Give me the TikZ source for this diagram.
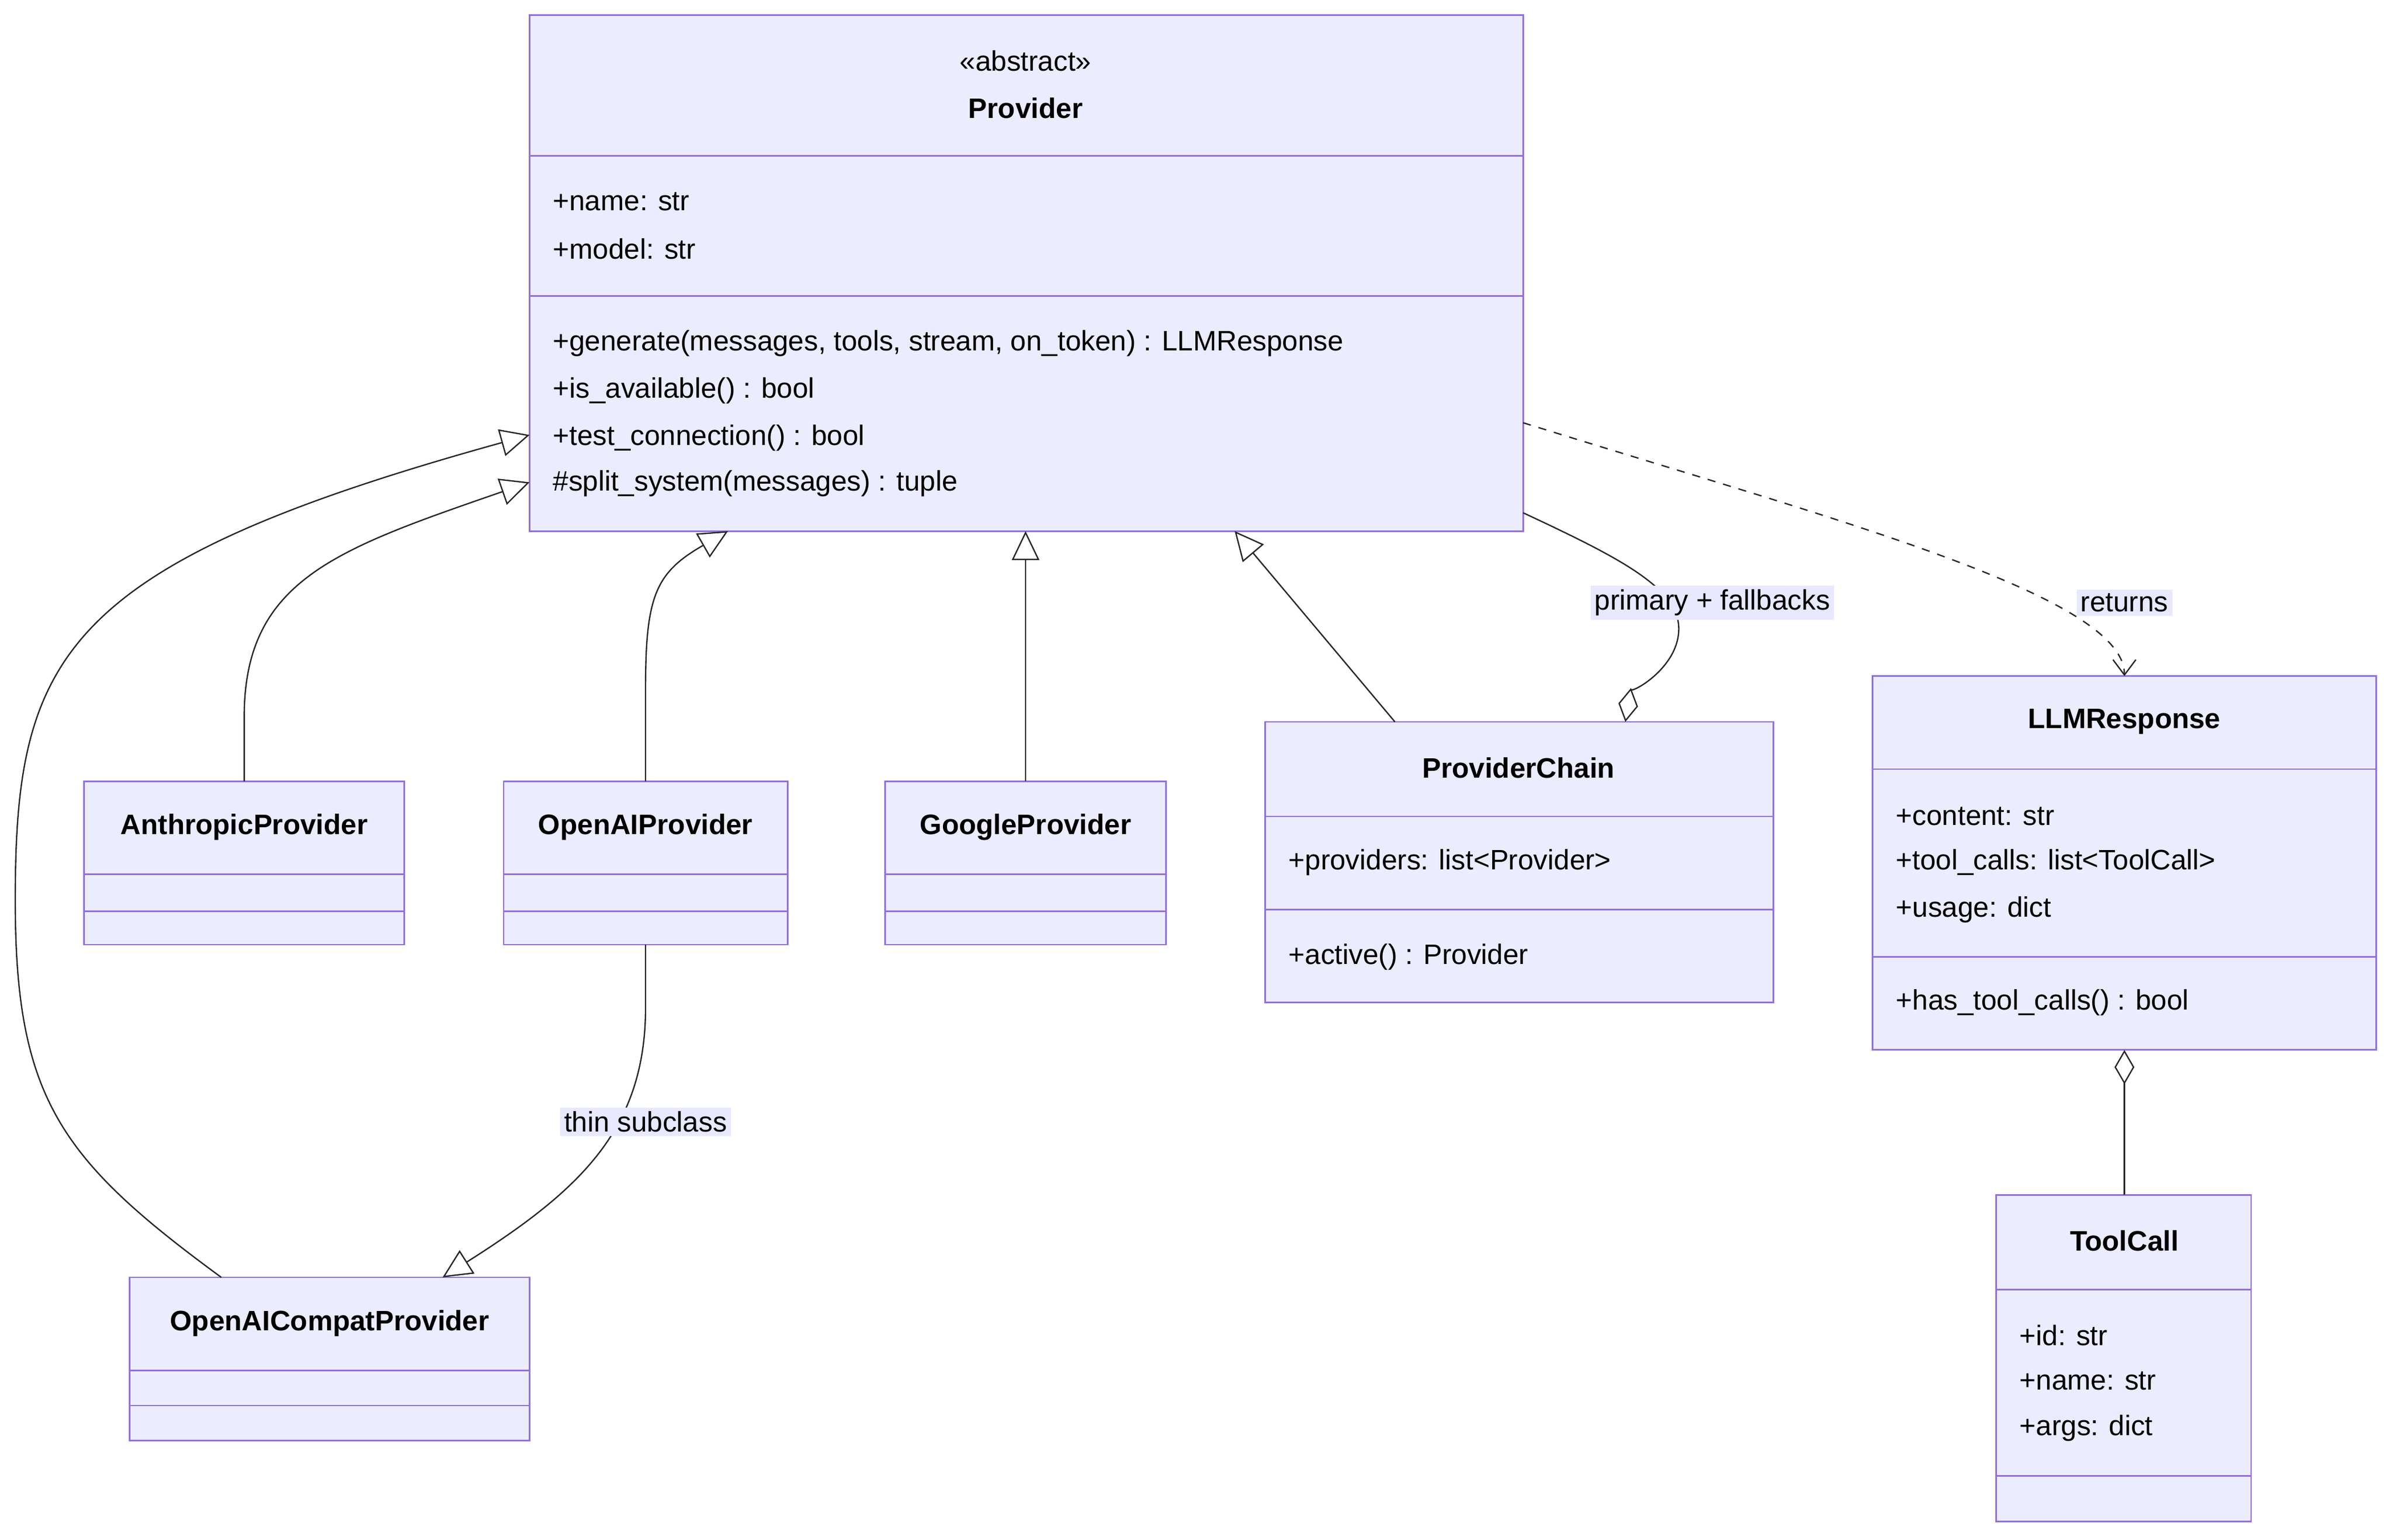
\documentclass[tikz,border=0pt]{standalone}
\usepackage{fontspec}
\setmainfont{Liberation Sans}
\usetikzlibrary{arrows.meta,calc}

\definecolor{boxfill}{HTML}{ECECFF}
\definecolor{boxline}{HTML}{9370DB}
\definecolor{lblfill}{HTML}{E8E8FF}

\tikzset{
  box/.style={draw=boxline, fill=boxfill, line width=0.6pt},
  divider/.style={draw=boxline, line width=0.6pt},
  title/.style={font=\fontsize{10.5}{12}\selectfont\bfseries, inner sep=0pt},
  member/.style={font=\fontsize{10.5}{12}\selectfont, anchor=west, inner sep=0pt},
  edge/.style={draw=black!85, line width=0.5pt},
  inherit/.style={edge, -{Triangle[open, length=0.38cm, width=0.36cm]}},
  aggr/.style={edge, -{Diamond[open, length=0.45cm, width=0.26cm]}},
  lbl/.style={fill=lblfill, font=\fontsize{10.5}{12}\selectfont, inner sep=1.5pt}
}

% class frame: name, x1, y1, x2, y2
\newcommand{\umlframe}[5]{%
  \coordinate (#1-nw) at (#2,#3);
  \coordinate (#1-se) at (#4,#5);
  \draw[box] (#1-nw) rectangle (#1-se);
}
% divider: x1, x2, y
\newcommand{\umlsep}[3]{\draw[divider] (#1,#3) -- (#2,#3);}

\begin{document}
\begin{tikzpicture}[x=0.02cm, y=-0.02cm]

    %% Background
    \useasboundingbox (0,0) rectangle (1568,1009);

    % Provider
    \umlframe{prov}{347}{10}{998}{348}
    \umlsep{347}{998}{102}
    \umlsep{347}{998}{194}
    \node[inner sep=0pt, font=\fontsize{10.5}{12}\selectfont] (prov-st) at (672,40) {«abstract»};
    \node[title] (prov-t) at (672,71) {Provider};
    \node[member] (prov-a1) at (362,132) {+name: str};
    \node[member] (prov-a2) at (362,163) {+model: str};
    \node[member] (prov-m1) at (362,225) {+generate(messages, tools, stream, on\_token) : LLMResponse};
    \node[member] (prov-m2) at (362,256) {+is\_available() : bool};
    \node[member] (prov-m3) at (362,287) {+test\_connection() : bool};
    \node[member] (prov-m4) at (362,317) {\#split\_system(messages) : tuple};

    % Subclasses
    \umlframe{anth}{55}{512}{265}{619}
    \umlsep{55}{265}{573}
    \umlsep{55}{265}{597}
    \node[title] (anth-t) at (160,542) {AnthropicProvider};

    \umlframe{oai}{330}{512}{516}{619}
    \umlsep{330}{516}{573}
    \umlsep{330}{516}{597}
    \node[title] (oai-t) at (423,542) {OpenAIProvider};

    \umlframe{goog}{580}{512}{764}{619}
    \umlsep{580}{764}{573}
    \umlsep{580}{764}{597}
    \node[title] (goog-t) at (672,542) {GoogleProvider};

    \umlframe{compat}{85}{837}{347}{944}
    \umlsep{85}{347}{898}
    \umlsep{85}{347}{921}
    \node[title] (compat-t) at (216,867) {OpenAICompatProvider};

    % ProviderChain
    \umlframe{chain}{829}{473}{1162}{657}
    \umlsep{829}{1162}{535}
    \umlsep{829}{1162}{596}
    \node[title] (chain-t) at (995,503) {ProviderChain};
    \node[member] (chain-a1) at (844,565) {+providers: list<Provider>};
    \node[member] (chain-m1) at (844,627) {+active() : Provider};

    % LLMResponse
    \umlframe{resp}{1227}{443}{1557}{688}
    \umlsep{1227}{1557}{504}
    \umlsep{1227}{1557}{627}
    \node[title] (resp-t) at (1392,473) {LLMResponse};
    \node[member] (resp-a1) at (1242,535) {+content: str};
    \node[member] (resp-a2) at (1242,565) {+tool\_calls: list<ToolCall>};
    \node[member] (resp-a3) at (1242,596) {+usage: dict};
    \node[member] (resp-m1) at (1242,657) {+has\_tool\_calls() : bool};

    % ToolCall
    \umlframe{tool}{1308}{783}{1475}{997}
    \umlsep{1308}{1475}{845}
    \umlsep{1308}{1475}{967}
    \node[title] (tool-t) at (1392,813) {ToolCall};
    \node[member] (tool-a1) at (1323,875) {+id: str};
    \node[member] (tool-a2) at (1323,905) {+name: str};
    \node[member] (tool-a3) at (1323,936) {+args: dict};

    % Connector ends
    \coordinate (p-l1) at (347,285);
    \coordinate (p-l2) at (347,316);
    \coordinate (p-b1) at (477,348);
    \coordinate (p-b2) at (672,348);
    \coordinate (p-b3) at (809,348);
    \coordinate (p-r1) at (998,336);
    \coordinate (p-r2) at (998,277);
    \coordinate (anth-top) at (160,512);
    \coordinate (oai-top) at (423,512);
    \coordinate (oai-bot) at (423,619);
    \coordinate (goog-top) at (672,512);
    \coordinate (compat-top1) at (145,837);
    \coordinate (compat-top2) at (290,837);
    \coordinate (chain-top1) at (914,473);
    \coordinate (chain-top2) at (1065,473);
    \coordinate (resp-top) at (1392,443);
    \coordinate (resp-bot) at (1392,688);
    \coordinate (tool-top) at (1392,783);

    % Inheritance
    \draw[inherit] (compat-top1) .. controls (40,760) and (10,720) .. (10,590)
      .. controls (10,430) and (40,370) .. (p-l1);
    \draw[inherit] (anth-top) -- (160,470) .. controls (160,380) and (220,360) .. (p-l2);
    \draw[inherit] (oai-top) -- (423,450) .. controls (423,390) and (430,375) .. (p-b1);
    \draw[inherit] (goog-top) -- (p-b2);
    \draw[inherit] (chain-top1) -- (p-b3);
    \draw[inherit] (oai-bot) -- (423,660) .. controls (423,740) and (380,780) .. (compat-top2);
    \node[lbl] (l-thin) at (423,735) {thin subclass};

    % Aggregation
    \draw[aggr] (p-r1) .. controls (1060,365) and (1100,385) .. (1100,412)
      .. controls (1100,438) and (1068,455) .. (chain-top2);
    \node[lbl] (l-prim) at (1122,395) {primary + fallbacks};
    \draw[aggr] (tool-top) -- (resp-bot);

    % Dependency
    \draw[edge, dashed, -{Straight Barb[length=0.2cm, width=0.3cm]}] (p-r2)
      .. controls (1200,340) and (1392,390) .. (resp-top);
    \node[lbl] (l-ret) at (1392,395) {returns};

\end{tikzpicture}
\end{document}
